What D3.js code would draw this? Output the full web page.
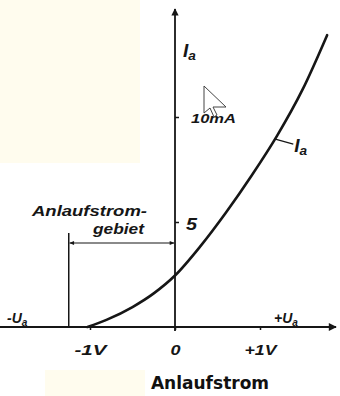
<!DOCTYPE html>
<html>
<head>
<meta charset="utf-8">
<script src="https://cdn.jsdelivr.net/npm/d3@7"></script>
<style>
  body { margin: 0; background: #fff; }
  svg { display: block; }
  .lbl { font-family: "Liberation Sans", Arial, sans-serif; font-style: italic; font-weight: bold; fill: #161616; }
</style>
</head>
<body>
<svg id="chart" width="340" height="396"></svg>
<script>
// anode voltage (V) and anode current (mA)
let voltage = [-1.03, -0.8, -0.5, -0.25, 0, 0.3, 0.6, 0.9, 1.2, 1.5, 1.79];
let current = [0, 0.35, 0.95, 1.6, 2.45, 3.85, 5.45, 7.2, 9.1, 11.3, 13.9];
let xTicks = [-1, 0, 1];
let xTickLabels = ['-1V', '0', '+1V'];
let yTicks = [5, 10];
let yTickLabels = ['5', '10mA'];

let svg = d3.select('#chart');
let ink = '#161616';

// pale scan tint
svg.append('rect').attr('x', 0).attr('y', 0).attr('width', 140).attr('height', 163).attr('fill', '#fffcee');
svg.append('rect').attr('x', 45).attr('y', 370).attr('width', 100).attr('height', 26).attr('fill', '#fffcee');

let x = d3.scaleLinear().domain([-1, 1]).range([90, 260]);
let y = d3.scaleLinear().domain([0, 10]).range([327, 117]);

let defs = svg.append('defs');
defs.append('marker').attr('id', 'arr').attr('viewBox', '0 0 10 10')
    .attr('refX', 9).attr('refY', 5).attr('markerWidth', 5).attr('markerHeight', 4)
    .attr('orient', 'auto-start-reverse')
    .append('path').attr('d', 'M0,0 L10,5 L0,10 Z').attr('fill', ink);
defs.append('marker').attr('id', 'arrSmall').attr('viewBox', '0 0 10 10')
    .attr('refX', 9).attr('refY', 5).attr('markerWidth', 7).attr('markerHeight', 4)
    .attr('orient', 'auto-start-reverse')
    .append('path').attr('d', 'M0,1 L10,5 L0,9 Z').attr('fill', ink);

// axis lines
svg.append('line').attr('x1', 0).attr('x2', 336).attr('y1', y(0)).attr('y2', y(0))
    .attr('stroke', ink).attr('stroke-width', 2).attr('marker-end', 'url(#arr)');
svg.append('line').attr('x1', x(0)).attr('x2', x(0)).attr('y1', y(0) + 4).attr('y2', 9)
    .attr('stroke', ink).attr('stroke-width', 1.8).attr('marker-end', 'url(#arr)');

// x axis ticks and labels
let xAxis = d3.axisBottom(x).tickValues(xTicks).tickSize(3)
    .tickFormat((d, i) => xTickLabels[i]);
let gx = svg.append('g').attr('transform', 'translate(0,' + y(0) + ')').call(xAxis);
gx.select('.domain').remove();
gx.selectAll('line').attr('stroke', ink).attr('stroke-width', 1.5);
gx.selectAll('text').attr('class', 'lbl').attr('font-size', 15).attr('y', 28).attr('dy', 0)
    .attr('fill', ink)
    .attr('textLength', d => d === 0 ? 10 : 32).attr('lengthAdjust', 'spacingAndGlyphs');

// y axis ticks and labels
let yAxis = d3.axisRight(y).tickValues(yTicks).tickSize(4)
    .tickFormat((d, i) => yTickLabels[i]);
let gy = svg.append('g').attr('transform', 'translate(' + x(0) + ',0)').call(yAxis);
gy.select('.domain').remove();
gy.selectAll('line').attr('stroke', ink).attr('stroke-width', 1.5);
gy.selectAll('text').attr('class', 'lbl').attr('fill', ink)
    .attr('font-size', d => d === 5 ? 17 : 13)
    .attr('x', d => d === 5 ? 11 : 16).attr('dy', d => d === 5 ? '0.45em' : '0.4em')
    .attr('textLength', d => d === 5 ? 11 : 45).attr('lengthAdjust', 'spacingAndGlyphs');

// the curve
let pts = voltage.map((v, i) => [x(v), y(current[i])]);
let line = d3.line().curve(d3.curveMonotoneX);
svg.append('path').attr('d', line(pts)).attr('fill', 'none')
    .attr('stroke', ink).attr('stroke-width', 2.6).attr('stroke-linecap', 'round');

// leader and curve label
let lead = [x(1.18), y(8.95)];
svg.append('line').attr('x1', lead[0]).attr('y1', lead[1]).attr('x2', lead[0] + 18).attr('y2', lead[1] + 5)
    .attr('stroke', ink).attr('stroke-width', 1.2);
function subLabel(px, py, main, sub, size) {
    let t = svg.append('text').attr('class', 'lbl').attr('x', px).attr('y', py).attr('font-size', size);
    t.append('tspan').text(main);
    t.append('tspan').attr('font-size', size * 0.72).attr('dy', 3).text(sub);
    return t;
}
subLabel(lead[0] + 19, lead[1] + 13, 'I', 'a', 19);
subLabel(183, 57, 'I', 'a', 19);
subLabel(7, 323, '-U', 'a', 14);
subLabel(274, 323, '+U', 'a', 14);

// Anlaufstromgebiet bracket
let xl = x(-1.25);
svg.append('line').attr('x1', xl).attr('x2', xl).attr('y1', 233).attr('y2', y(0))
    .attr('stroke', ink).attr('stroke-width', 1.5);
svg.append('line').attr('x1', xl + 1).attr('x2', x(0) - 1).attr('y1', 243).attr('y2', 243)
    .attr('stroke', ink).attr('stroke-width', 1.2)
    .attr('marker-start', 'url(#arrSmall)').attr('marker-end', 'url(#arrSmall)');
svg.append('text').attr('class', 'lbl').attr('x', 32).attr('y', 216).attr('font-size', 14)
    .attr('textLength', 115).attr('lengthAdjust', 'spacingAndGlyphs').text('Anlaufstrom-');
svg.append('text').attr('class', 'lbl').attr('x', 93).attr('y', 234).attr('font-size', 14)
    .attr('textLength', 51).attr('lengthAdjust', 'spacingAndGlyphs').text('gebiet');

// title under the chart
svg.append('text').attr('x', 210).attr('y', 389).attr('text-anchor', 'middle')
    .attr('font-family', '"DejaVu Sans", sans-serif').attr('font-weight', 'bold')
    .attr('font-size', 17).attr('fill', '#111').text('Anlaufstrom');

// mouse pointer left in the scan
svg.append('path').attr('d', 'M204,86 L204,113 L210,108 L214,117 L217,115 L213,107 L226,107 Z')
    .attr('fill', '#fff').attr('stroke', '#444').attr('stroke-width', 1);
</script>
</body>
</html>
